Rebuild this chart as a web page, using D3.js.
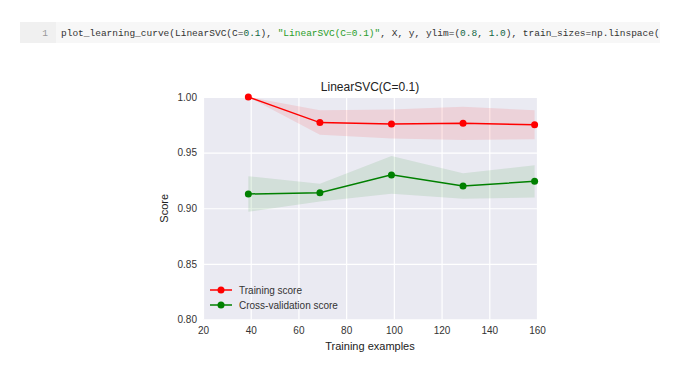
<!DOCTYPE html>
<html><head><meta charset="utf-8">
<script src="https://cdn.jsdelivr.net/npm/d3@7/dist/d3.min.js"></script>
<style>body{margin:0;background:#fff;}svg{display:block;}</style>
</head><body>
<svg id="c" width="700" height="373"></svg>
<script>
const trainSizes = [39, 69, 99, 129, 159];
const trainMean = [1.000, 0.977, 0.9757, 0.9763, 0.975];
const trainStd  = [0.000, 0.011, 0.013, 0.015, 0.013];
const cvMean    = [0.9128, 0.914, 0.930, 0.920, 0.9242];
const cvStd     = [0.016, 0.008, 0.017, 0.0115, 0.0145];
const xTicks = [20, 40, 60, 80, 100, 120, 140, 160];
const yTicks = [0.80, 0.85, 0.90, 0.95, 1.00];
const legendLabels = ["Training score", "Cross-validation score"];
const colors = ["#ff0000", "#008000"];

const svg = d3.select("#c");

// code cell
const cell = svg.append("g");
cell.append("rect").attr("x", 20).attr("y", 22).attr("width", 640).attr("height", 21).attr("fill", "#f7f7f7");
cell.append("rect").attr("x", 20).attr("y", 22).attr("width", 36).attr("height", 21).attr("fill", "#f0f0f0");
cell.append("clipPath").attr("id", "cc").append("rect").attr("x", 56).attr("y", 22).attr("width", 604).attr("height", 21);
cell.append("text").attr("x", 48).attr("y", 36).attr("text-anchor", "end")
  .attr("font-family", "Liberation Mono, monospace").attr("font-size", 9.5).attr("fill", "#999").text("1");
const code = cell.append("text").attr("x", 61).attr("y", 36).attr("clip-path", "url(#cc)")
  .attr("font-family", "Liberation Mono, monospace").attr("font-size", 9.5).attr("fill", "#333").attr("xml:space", "preserve");
const parts = [
  ["plot_learning_curve(LinearSVC(C=", "#333"], ["0.1", "#116644"], ["), ", "#333"],
  ["\"LinearSVC(C=0.1)\"", "#2a9d2a"], [", X, y, ylim=(", "#333"], ["0.8", "#116644"], [", ", "#333"],
  ["1.0", "#116644"], ["), train_sizes=np.linspace(", "#333"]
];
parts.forEach(p => code.append("tspan").attr("fill", p[1]).text(p[0]));
code.style("white-space", "pre");

const L = 203, R = 537, T = 97, B = 319.5;
const x = d3.scaleLinear().domain([20, 160]).range([L, R]);
const y = d3.scaleLinear().domain([0.8, 1.0]).range([B, T]);

svg.append("rect").attr("x", L).attr("y", T).attr("width", R - L).attr("height", B - T).attr("fill", "#eaeaf2");

const gx = svg.append("g").attr("transform", `translate(0,${B})`)
  .call(d3.axisBottom(x).tickValues(xTicks).tickSize(-(B - T)).tickPadding(7).tickFormat(d3.format("d")));
const gy = svg.append("g").attr("transform", `translate(${L},0)`)
  .call(d3.axisLeft(y).tickValues(yTicks).tickSize(-(R - L)).tickPadding(6).tickFormat(d3.format(".2f")));
[gx, gy].forEach(g => {
  g.select(".domain").remove();
  g.selectAll(".tick line").attr("stroke", "#fff").attr("stroke-width", 1.2);
  g.selectAll(".tick text").attr("font-family", "Liberation Sans, Arial, sans-serif").attr("font-size", 10).attr("fill", "#333");
});

const series = [
  {m: trainMean, s: trainStd, c: colors[0]},
  {m: cvMean, s: cvStd, c: colors[1]}
];
const area = d3.area().x(d => x(d.x)).y0(d => y(d.m - d.s)).y1(d => y(d.m + d.s));
const line = d3.line().x(d => x(d.x)).y(d => y(d.m));
svg.append("clipPath").attr("id", "pc").append("rect").attr("x", L).attr("y", T - 5).attr("width", R - L + 5).attr("height", B - T + 5);
series.forEach(sr => {
  const pts = trainSizes.map((v, i) => ({x: v, m: sr.m[i], s: sr.s[i]}));
  svg.append("path").datum(pts).attr("d", area).attr("fill", sr.c).attr("fill-opacity", 0.1).attr("clip-path", "url(#pc)");
});
series.forEach(sr => {
  const pts = trainSizes.map((v, i) => ({x: v, m: sr.m[i], s: sr.s[i]}));
  svg.append("path").datum(pts).attr("d", line).attr("fill", "none").attr("stroke", sr.c).attr("stroke-width", 1.5);
  svg.selectAll(null).data(pts).enter().append("circle")
    .attr("cx", d => x(d.x)).attr("cy", d => y(d.m)).attr("r", 3.5).attr("fill", sr.c);
});

// legend
legendLabels.forEach((lab, i) => {
  const ly = 290 + i * 15;
  svg.append("line").attr("x1", 210).attr("x2", 232).attr("y1", ly).attr("y2", ly).attr("stroke", colors[i]).attr("stroke-width", 1.5);
  svg.append("circle").attr("cx", 221).attr("cy", ly).attr("r", 3.5).attr("fill", colors[i]);
  svg.append("text").attr("x", 239).attr("y", ly + 3.5).attr("font-family", "Liberation Sans, Arial, sans-serif")
    .attr("font-size", 10).attr("fill", "#333").text(lab);
});

svg.append("text").attr("x", (L + R) / 2).attr("y", 91).attr("text-anchor", "middle")
  .attr("font-family", "Liberation Sans, Arial, sans-serif").attr("font-size", 12).attr("fill", "#222").text("LinearSVC(C=0.1)");
svg.append("text").attr("x", (L + R) / 2).attr("y", 350).attr("text-anchor", "middle")
  .attr("font-family", "Liberation Sans, Arial, sans-serif").attr("font-size", 11).attr("fill", "#222").text("Training examples");
svg.append("text").attr("transform", `translate(168,${(T + B) / 2}) rotate(-90)`).attr("text-anchor", "middle")
  .attr("font-family", "Liberation Sans, Arial, sans-serif").attr("font-size", 11).attr("fill", "#222").text("Score");
</script>
</body></html>
